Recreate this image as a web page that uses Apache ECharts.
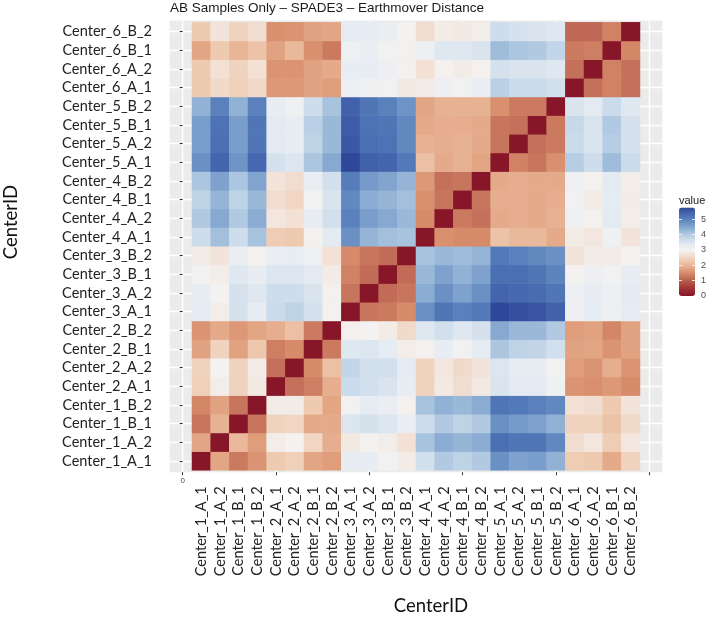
<!DOCTYPE html>
<html><head><meta charset="utf-8">
<script src="https://cdn.jsdelivr.net/npm/echarts@6/dist/echarts.min.js"></script>
<style>html,body{margin:0;padding:0;background:#fff}#chart{width:709px;height:617px}</style>
</head><body><div id="chart"></div>
<script>
// ---- data ----
const centerIDs = ['Center_1_A_1','Center_1_A_2','Center_1_B_1','Center_1_B_2','Center_2_A_1','Center_2_A_2','Center_2_B_1','Center_2_B_2','Center_3_A_1','Center_3_A_2','Center_3_B_1','Center_3_B_2','Center_4_A_1','Center_4_A_2','Center_4_B_1','Center_4_B_2','Center_5_A_1','Center_5_A_2','Center_5_B_1','Center_5_B_2','Center_6_A_1','Center_6_A_2','Center_6_B_1','Center_6_B_2'];
// rowValues[r][c] : row r = y category (bottom->top), column c = x category
const rowValues = [
 [0,1.8,1.3,1.6,2.3,2.4,1.8,1.7,3.25,3.25,3.05,2.85,3.6,4.0,3.85,4.0,4.8,4.55,4.6,4.35,2.35,2.3,1.85,2.45],
 [1.8,0,2.05,1.7,2.9,3.0,2.5,1.9,2.8,3.0,2.9,2.65,4.1,4.4,4.3,4.4,5.25,5.15,5.15,4.9,2.6,2.75,2.35,2.75],
 [1.25,1.95,0,1.25,2.45,2.5,1.85,1.85,3.45,3.55,3.45,3.2,3.65,4.0,3.85,4.0,4.8,4.65,4.55,4.35,2.45,2.45,2.2,2.55],
 [1.45,1.75,1.25,0,2.85,2.85,2.3,1.8,3.05,3.3,3.2,2.95,4.1,4.35,4.25,4.4,5.15,5.1,5.0,4.9,2.65,2.6,2.3,2.7],
 [2.4,2.9,2.45,2.8,0,1.2,1.35,1.9,3.7,3.6,3.5,3.25,2.45,2.8,2.6,2.8,3.5,3.35,3.35,3.1,1.6,1.55,1.65,1.5],
 [2.45,3.0,2.45,2.85,1.2,0,1.5,2.15,3.8,3.6,3.6,3.3,2.45,2.75,2.55,2.7,3.45,3.25,3.25,3.05,1.7,1.6,1.9,1.6],
 [1.75,2.45,1.75,2.25,1.35,1.5,0,1.3,3.4,3.45,3.3,2.9,2.95,3.25,3.05,3.3,4.05,3.85,3.8,3.6,1.75,1.8,1.6,1.75],
 [1.6,1.85,1.65,1.8,1.9,2.15,1.3,0,2.95,3.0,2.85,2.55,3.4,3.6,3.4,3.55,4.45,4.25,4.25,4.0,1.7,1.75,1.45,1.75],
 [3.3,2.9,3.55,3.25,3.7,3.85,3.55,2.95,0,1.25,1.3,1.5,4.8,5.15,5.0,5.1,5.75,5.65,5.6,5.45,3.15,3.3,3.15,3.3],
 [3.25,3.0,3.55,3.4,3.65,3.65,3.5,2.95,1.25,0,1.15,1.25,4.4,4.8,4.55,4.8,5.4,5.35,5.3,5.15,3.15,3.25,3.15,3.35],
 [3.05,2.9,3.4,3.25,3.45,3.45,3.35,2.85,1.4,1.15,0,1.15,4.25,4.55,4.35,4.55,5.25,5.25,5.15,4.95,3.0,3.15,3.05,3.25],
 [2.85,2.7,3.2,2.95,3.2,3.25,3.1,2.65,1.5,1.25,1.15,0,4.1,4.25,4.2,4.3,5.1,5.0,4.9,4.8,2.7,2.85,2.85,3.0],
 [3.65,4.15,3.65,4.1,2.35,2.3,2.95,3.35,4.8,4.3,4.15,4.1,0,1.55,1.5,1.5,2.2,2.05,2.05,1.85,2.85,2.75,3.1,2.7],
 [4.0,4.45,4.0,4.4,2.75,2.65,3.25,3.6,5.0,4.6,4.45,4.25,1.5,0,1.3,1.2,1.85,1.9,1.85,1.95,3.1,2.95,3.35,2.9],
 [3.85,4.3,3.85,4.25,2.6,2.5,3.05,3.5,4.9,4.4,4.3,4.15,1.55,1.25,0,1.25,1.9,1.9,1.85,1.9,3.05,2.85,3.3,2.85],
 [4.05,4.55,4.05,4.5,2.7,2.6,3.2,3.6,5.05,4.65,4.5,4.3,1.65,1.2,1.25,0,1.85,1.9,1.85,1.85,3.1,2.95,3.35,2.9],
 [4.8,5.4,4.75,5.35,3.55,3.45,4.05,4.45,5.75,5.45,5.4,5.1,2.15,1.85,1.95,1.8,0,1.4,1.25,1.55,3.95,3.65,4.2,3.7],
 [4.6,5.25,4.6,5.15,3.35,3.25,3.85,4.25,5.55,5.25,5.2,4.9,1.95,1.9,1.95,1.85,1.25,0,1.2,1.3,3.7,3.5,3.95,3.55],
 [4.6,5.2,4.6,5.15,3.35,3.25,3.9,4.25,5.5,5.2,5.15,4.9,1.85,1.9,1.9,1.85,1.25,1.2,0,1.3,3.75,3.5,4.0,3.55],
 [4.35,5.0,4.35,5.0,3.25,3.1,3.65,4.1,5.45,5.15,5.0,4.75,1.8,1.95,1.95,1.95,1.55,1.3,1.3,0,3.5,3.35,3.7,3.4],
 [2.3,2.55,2.4,2.55,1.65,1.65,1.75,1.7,3.15,3.1,3.05,2.8,2.85,3.15,3.05,3.2,3.9,3.7,3.7,3.6,0,1.2,1.4,1.2],
 [2.3,2.65,2.45,2.65,1.6,1.6,1.75,1.85,3.25,3.25,3.15,2.95,2.65,2.95,2.85,2.95,3.55,3.5,3.5,3.4,1.2,0,1.4,1.2],
 [1.8,2.3,2.0,2.2,1.75,2.05,1.55,1.3,3.1,3.2,3.05,2.95,3.15,3.4,3.4,3.5,4.2,4.05,4.0,3.8,1.3,1.35,0,1.45],
 [2.3,2.7,2.45,2.6,1.55,1.6,1.75,1.8,3.3,3.3,3.2,3.0,2.6,2.85,2.8,2.9,3.65,3.55,3.5,3.4,1.1,1.1,1.4,0]
];
const valueMin = 0;
const valueMax = 5.75;
const legendTicks = [0, 1, 2, 3, 4, 5];
const panelXBreaks = [0, 5, 10, 15, 20, 25];
const panelXLabels = [0];
const panelYBreaks = centerIDs.map((_, i) => i + 1);

// ---- styles ----
const colorAnchors = [
 [0.0,'#861628'],[0.6,'#a63a3a'],[1.2,'#c5705a'],[1.5,'#d78b6a'],[1.8,'#e3a685'],
 [2.1,'#ebbda0'],[2.4,'#f0d0b8'],[2.7,'#f2e4da'],[3.0,'#f3f2f1'],[3.3,'#e6ecf3'],
 [3.6,'#d2e0ed'],[3.9,'#bbd0e6'],[4.2,'#9fbcda'],[4.5,'#82a5cf'],[4.8,'#6a90c4'],
 [5.1,'#5279b8'],[5.4,'#4465ae'],[5.75,'#2f4799']
];
function hex2rgb(h){return [parseInt(h.slice(1,3),16),parseInt(h.slice(3,5),16),parseInt(h.slice(5,7),16)];}
function colorAt(v){
  for(let i=0;i<colorAnchors.length-1;i++){
    const [a,ca]=colorAnchors[i],[b,cb]=colorAnchors[i+1];
    if(v<=b){const t=(v-a)/(b-a);const x=hex2rgb(ca),y=hex2rgb(cb);
      return 'rgb('+x.map((q,k)=>Math.round(q+(y[k]-q)*t)).join(',')+')';}
  }
  return colorAnchors[colorAnchors.length-1][1];
}
const rampColors=[];
for(let i=0;i<=115;i++){rampColors.push(colorAt(valueMin+(valueMax-valueMin)*i/115));}

const heatData=[];
rowValues.forEach((row,r)=>row.forEach((v,c)=>heatData.push([c,r,v])));

const labelFont = 'Lato';
const chart = echarts.init(document.getElementById('chart'), null, {renderer:'canvas'});
chart.setOption({
  animation:false,
  backgroundColor:'#ffffff',
  title:{text:'AB Samples Only \u2013 SPADE3 \u2013 Earthmover Distance', left:170, top:1, padding:0,
    textStyle:{fontFamily:'Liberation Sans', fontSize:13.5, fontWeight:'normal', color:'#1a1a1a'}},
  grid:[
    {left:169.6, top:20.5, width:492.8, height:451.7, show:true, backgroundColor:'#EBEBEB', borderWidth:0, containLabel:false},
    {left:192, top:22.3, width:448, height:448, containLabel:false},
    {left:679, top:207.5, width:16, height:88.5, containLabel:false}
  ],
  xAxis:[
    {type:'value', gridIndex:0, min:-0.7, max:25.7,
      axisLine:{show:false},
      axisTick:{show:true, customValues:panelXBreaks, length:3, lineStyle:{color:'#333', width:1}},
      axisLabel:{show:true, customValues:panelXLabels, margin:5, fontSize:8, color:'#4d4d4d', fontFamily:'Liberation Sans'},
      splitLine:{show:true, lineStyle:{color:'#ffffff', width:1.4}}},
    {type:'category', gridIndex:1, data:centerIDs,
      axisLine:{show:false}, axisTick:{show:false},
      axisLabel:{interval:0, rotate:90, margin:16, fontFamily:labelFont, fontSize:14.5, color:'#222'},
      splitLine:{show:false}},
    {type:'value', gridIndex:2, show:false, min:0, max:1}
  ],
  yAxis:[
    {type:'value', gridIndex:0, min:0.4, max:24.6,
      axisLine:{show:false},
      axisTick:{show:true, customValues:panelYBreaks, length:3, lineStyle:{color:'#333', width:1}},
      axisLabel:{show:false},
      splitLine:{show:true, lineStyle:{color:'#ffffff', width:1.4}}},
    {type:'category', gridIndex:1, data:centerIDs,
      axisLine:{show:false}, axisTick:{show:false},
      axisLabel:{interval:0, margin:40, fontFamily:labelFont, fontSize:14.5, color:'#222'},
      splitLine:{show:false}},
    {type:'value', gridIndex:2, position:'left', min:valueMin, max:valueMax, z:10,
      axisLine:{show:false},
      axisTick:{show:true, inside:true, customValues:legendTicks, length:3, lineStyle:{color:'rgba(255,255,255,0.8)', width:1}},
      axisLabel:{show:false}, splitLine:{show:false}},
    {type:'value', gridIndex:2, position:'right', min:valueMin, max:valueMax, z:10,
      axisLine:{show:false},
      axisTick:{show:true, inside:true, customValues:legendTicks, length:3, lineStyle:{color:'rgba(255,255,255,0.8)', width:1}},
      axisLabel:{show:true, customValues:legendTicks, margin:6, fontSize:9, color:'#4d4d4d', fontFamily:'Liberation Sans'},
      splitLine:{show:false}}
  ],
  visualMap:{type:'continuous', min:valueMin, max:valueMax, seriesIndex:0, calculable:false,
    left:679, top:207.5, itemWidth:16, itemHeight:88.5, padding:0, text:null,
    inRange:{color:rampColors}, hoverLink:false},
  series:[{
    type:'heatmap', xAxisIndex:1, yAxisIndex:1, data:heatData, progressive:0,
    itemStyle:{borderWidth:0}, emphasis:{disabled:true}
  }],
  graphic:[
    {type:'text', x:431, y:606, style:{text:'CenterID', fontFamily:labelFont, fontSize:18.5, fill:'#111', textAlign:'center', textVerticalAlign:'middle'}},
    {type:'text', x:11, y:222, rotation:Math.PI/2, style:{text:'CenterID', fontFamily:labelFont, fontSize:18.5, fill:'#111', textAlign:'center', textVerticalAlign:'middle'}},
    {type:'text', x:679, y:201, style:{text:'value', fontFamily:'Liberation Sans', fontSize:11, fill:'#1a1a1a', textAlign:'left', textVerticalAlign:'middle'}}
  ]
});
</script></body></html>
